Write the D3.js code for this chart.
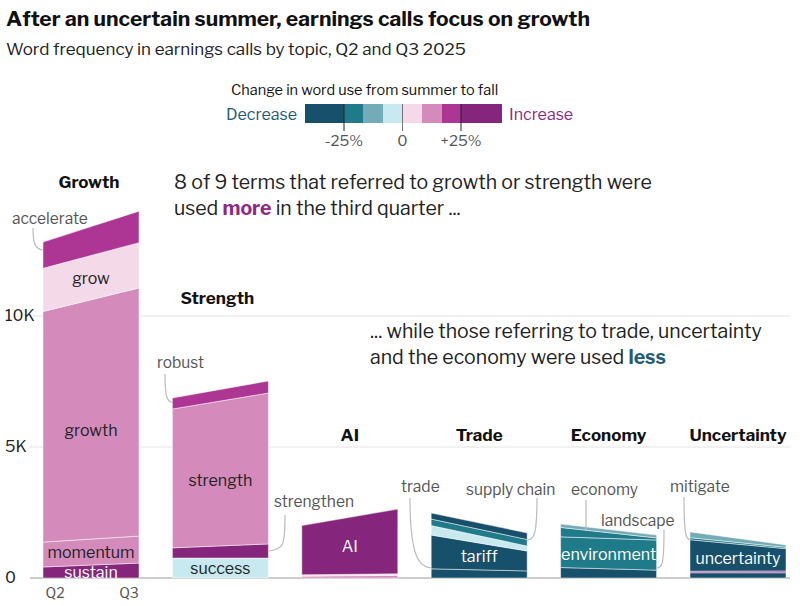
<!DOCTYPE html>
<html><head><meta charset="utf-8">
<script src="https://cdn.jsdelivr.net/npm/d3@7"></script>
<style>body{margin:0;background:#fff;font-family:"Franklin Gothic","Libre Franklin","Noto Sans",sans-serif}</style>
</head><body><div id="chart"></div>
<script>
// values in thousands of mentions, Q2 and Q3, stacked bottom-up
const topics = ["Growth", "Strength", "AI", "Trade", "Economy", "Uncertainty"];
const growthTerms = ["sustain", "momentum", "growth", "grow", "accelerate"];
const growthQ2 = [0.42, 0.95, 8.8, 1.65, 1.0];
const growthQ3 = [0.57, 1.03, 9.47, 1.73, 1.2];
const strengthTerms = ["success", "strengthen", "strength", "robust"];
const strengthQ2 = [0.76, 0.39, 5.3, 0.42];
const strengthQ3 = [0.76, 0.54, 5.76, 0.46];
const aiTerms = ["ai-other1", "ai-other2", "AI"];
const aiQ2 = [0.07, 0.05, 1.88];
const aiQ3 = [0.1, 0.06, 2.47];
const tradeTerms = ["trade", "tariff", "supply chain", "trade-other1", "trade-other2"];
const tradeQ2 = [0.35, 1.29, 0.36, 0.25, 0.23];
const tradeQ3 = [0.27, 0.76, 0.19, 0.25, 0.25];
const economyTerms = ["landscape", "environment", "economy", "economy-other"];
const economyQ2 = [0.4, 1.17, 0.36, 0.13];
const economyQ3 = [0.3, 1.15, 0.08, 0.11];
const uncertaintyTerms = ["unc-other", "unc-other2", "uncertainty", "mitigate", "unc-other3"];
const uncertaintyQ2 = [0.2, 0.06, 1.2, 0.08, 0.22];
const uncertaintyQ3 = [0.2, 0.07, 0.85, 0.05, 0.09];
const legendLabels = ["-25%", "0", "+25%"];

const termColor = {
  sustain: "#85267c", momentum: "#d48bbb", growth: "#d48bbb", grow: "#f4d9e8", accelerate: "#ad3594",
  success: "#c7e9ef", strengthen: "#85267c", strength: "#d48bbb", robust: "#ad3594",
  "ai-other1": "#d48bbb", "ai-other2": "#f4d9e8", AI: "#85267c",
  trade: "#17506b", tariff: "#17506b", "supply chain": "#c7e9ef", "trade-other1": "#1f7a8a", "trade-other2": "#17506b",
  landscape: "#17506b", environment: "#1f7a8a", economy: "#1f7a8a", "economy-other": "#73acb8",
  "unc-other": "#17506b", "unc-other2": "#ad3594", uncertainty: "#17506b", mitigate: "#1f7a8a", "unc-other3": "#73acb8"
};
const groups = [
  {name: "Growth", terms: growthTerms, q2: growthQ2, q3: growthQ3},
  {name: "Strength", terms: strengthTerms, q2: strengthQ2, q3: strengthQ3},
  {name: "AI", terms: aiTerms, q2: aiQ2, q3: aiQ3},
  {name: "Trade", terms: tradeTerms, q2: tradeQ2, q3: tradeQ3},
  {name: "Economy", terms: economyTerms, q2: economyQ2, q3: economyQ3},
  {name: "Uncertainty", terms: uncertaintyTerms, q2: uncertaintyQ2, q3: uncertaintyQ3}
];
const inside = {growth: "#222", grow: "#222", momentum: "#222", sustain: "#fff", strength: "#222", success: "#222",
  AI: "#fff", tariff: "#fff", environment: "#fff", uncertainty: "#fff"};

const W = 800, H = 606;
const svg = d3.select("#chart").append("svg").attr("width", W).attr("height", H);
const y = d3.scaleLinear().domain([0, 10]).range([578, 316]);
const xg = d3.scalePoint().domain(topics).range([43, 690]);
const bw = 96;

svg.append("text").attr("x", 6).attr("y", 26).attr("font-size", 21).attr("font-weight", 700)
  .attr("fill", "#111").text("After an uncertain summer, earnings calls focus on growth");
svg.append("text").attr("x", 6).attr("y", 55).attr("font-size", 17).attr("fill", "#222")
  .text("Word frequency in earnings calls by topic, Q2 and Q3 2025");

// legend
const legColors = ["#17506b", "#1f7a8a", "#73acb8", "#c7e9ef", "#f4d9e8", "#d48bbb", "#ad3594", "#85267c"];
const legEdges = [305, 344, 363, 383, 402, 422, 442, 461, 502];
svg.append("text").attr("x", 231).attr("y", 95).attr("font-size", 14.5).attr("fill", "#111").text("Change in word use from summer to fall");
legColors.forEach((c, i) => svg.append("rect").attr("x", legEdges[i]).attr("y", 104)
  .attr("width", legEdges[i + 1] - legEdges[i]).attr("height", 19).attr("fill", c));
const lx = d3.scaleLinear().domain([-25, 25]).range([344, 461]);
[-25, 0, 25].forEach((v, i) => {
  svg.append("line").attr("x1", lx(v)).attr("x2", lx(v)).attr("y1", 104).attr("y2", 131).attr("stroke", v === 0 ? "#777" : "#222").attr("stroke-width", 1);
  svg.append("text").attr("x", lx(v)).attr("y", 146).attr("text-anchor", "middle").attr("font-size", 15).attr("fill", "#555").text(legendLabels[i]);
});
svg.append("text").attr("x", 297).attr("y", 120).attr("text-anchor", "end").attr("font-size", 16).attr("fill", "#1f5b78").text("Decrease");
svg.append("text").attr("x", 509).attr("y", 120).attr("font-size", 16).attr("fill", "#8e2a85").text("Increase");

// grid + axis
[5, 10].forEach(v => svg.append("line").attr("x1", 30).attr("x2", 790).attr("y1", y(v)).attr("y2", y(v)).attr("stroke", "#e3e3e3"));
svg.append("line").attr("x1", 30).attr("x2", 790).attr("y1", y(0)).attr("y2", y(0)).attr("stroke", "#999");
[[0, "0"], [5, "5K"], [10, "10K"]].forEach(([v, t]) => svg.append("text").attr("x", 5).attr("y", y(v) + 5)
  .attr("font-size", 16).attr("fill", "#222").text(t));

const area = d3.area().x(d => d.x).y0(d => y(d.y0)).y1(d => y(d.y1));
groups.forEach(g => {
  const x0 = xg(g.name), x1 = x0 + bw;
  const rows = [{}, {}];
  g.terms.forEach((t, i) => { rows[0][t] = g.q2[i]; rows[1][t] = g.q3[i]; });
  const stack = d3.stack().keys(g.terms)(rows);
  const gg = svg.append("g");
  stack.forEach(layer => {
    const pts = [{x: x0, y0: layer[0][0], y1: layer[0][1]}, {x: x1, y0: layer[1][0], y1: layer[1][1]}];
    gg.append("path").attr("d", area(pts)).attr("fill", termColor[layer.key])
      .attr("stroke", "#fff").attr("stroke-opacity", 0.6).attr("stroke-width", 0.8);
    if (inside[layer.key]) {
      const lo = (layer[0][0] + layer[1][0]) / 2, hi = Math.min(layer[0][1], layer[1][1]);
      const mid = hi - lo > 3 ? lo + (hi - lo) * 0.48 : (lo + (layer[0][1] + layer[1][1]) / 2) / 2;
      gg.append("text").attr("x", (x0 + x1) / 2).attr("y", y(mid) + 6).attr("text-anchor", "middle")
        .attr("font-size", 16).attr("fill", inside[layer.key]).text(layer.key);
    }
  });
  const ty = g.name === "Growth" ? 188 : g.name === "Strength" ? 304 : 441;
  svg.append("text").attr("x", g.name === "Strength" ? x0 + 8 : (x0 + x1) / 2 + (g.name === "Growth" ? -2 : 0))
    .attr("y", ty).attr("text-anchor", g.name === "Strength" ? "start" : "middle")
    .attr("font-size", 17).attr("font-weight", 700).attr("fill", "#111").text(g.name);
});
svg.append("text").attr("x", xg("Growth") + 12).attr("y", 598).attr("text-anchor", "middle").attr("font-size", 14).attr("fill", "#555").text("Q2");
svg.append("text").attr("x", xg("Growth") + bw - 10).attr("y", 598).attr("text-anchor", "middle").attr("font-size", 14).attr("fill", "#555").text("Q3");

// callouts
const callouts = [
  ["accelerate", 12, 224, "M33,228 C33,246 36,249 43,250"],
  ["robust", 157, 368, "M165,374 C165,398 167,401 173,403"],
  ["strengthen", 274, 507, "M285,515 C285,545 284,549 269,551"],
  ["trade", 401, 492, "M410,498 C410,560 420,566 431,568"],
  ["supply chain", 466, 495, "M537,498 C537,535 534,540 527,540"],
  ["economy", 571, 495, "M586,500 L586,531"],
  ["landscape", 601, 526, "M664,530 C664,565 662,568 657,568"],
  ["mitigate", 670, 492, "M684,497 C684,535 686,539 690,540"]
];
callouts.forEach(([t, x, yy, d]) => {
  svg.append("path").attr("d", d).attr("fill", "none").attr("stroke", "#bbb").attr("stroke-width", 1.2);
  svg.append("text").attr("x", x).attr("y", yy).attr("font-size", 15.5).attr("fill", "#555").text(t);
});

// annotations
const a1 = svg.append("text").attr("x", 174).attr("y", 189).attr("font-size", 19.5).attr("fill", "#222");
a1.append("tspan").text("8 of 9 terms that referred to growth or strength were");
const a2 = svg.append("text").attr("x", 174).attr("y", 215).attr("font-size", 19.5).attr("fill", "#222");
a2.append("tspan").text("used ");
a2.append("tspan").attr("font-weight", 700).attr("fill", "#8e2a85").text("more");
a2.append("tspan").text(" in the third quarter ...");
svg.append("text").attr("x", 370).attr("y", 338).attr("font-size", 19.5).attr("fill", "#222")
  .text("... while those referring to trade, uncertainty");
const a4 = svg.append("text").attr("x", 370).attr("y", 364).attr("font-size", 19.5).attr("fill", "#222");
a4.append("tspan").text("and the economy were used ");
a4.append("tspan").attr("font-weight", 700).attr("fill", "#1f5b78").text("less");
</script></body></html>
